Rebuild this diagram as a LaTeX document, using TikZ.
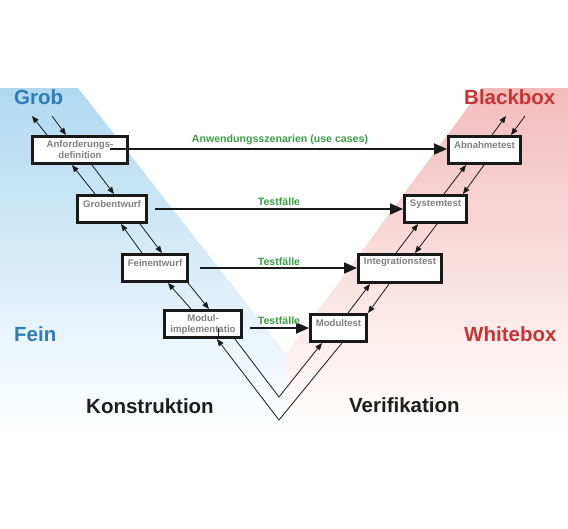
\documentclass[tikz,border=0pt]{standalone}
\usepackage{fontspec}
\setmainfont{Liberation Sans}
\usetikzlibrary{arrows.meta}
\definecolor{grobblue}{RGB}{46,125,183}
\definecolor{boxred}{RGB}{200,52,52}
\definecolor{lblgreen}{RGB}{60,158,70}
\definecolor{bgblue}{RGB}{176,217,240}
\definecolor{bgred}{RGB}{243,188,188}
\definecolor{boxgray}{RGB}{128,128,128}
\definecolor{linedark}{RGB}{25,25,25}
\definecolor{titledark}{RGB}{30,30,30}
\begin{document}
\begin{tikzpicture}[x=1pt,y=-1pt,
 vbox/.style={draw=linedark,line width=2.6pt,fill=white,minimum height=27.4pt,inner sep=0pt},
 boxtext/.style={text=boxgray,font=\fontsize{9.6}{11}\selectfont\bfseries,align=center,inner sep=0pt},
 bigarrow/.style={draw=linedark,line width=1.8pt,-{Triangle[length=13pt,width=11pt]}},
 smallarrow/.style={draw=linedark,line width=0.8pt,-{Triangle[length=7pt,width=5.5pt]}},
 greenlbl/.style={text=lblgreen,font=\fontsize{10.6}{12}\selectfont\bfseries,inner sep=0pt},
 sidelbl/.style={font=\fontsize{20.5}{24}\selectfont\bfseries,inner sep=0pt,anchor=west},
]
\useasboundingbox (0,0) rectangle (568,528);
\fill[white] (0,0) rectangle (568,528);
% background regions
\shade[top color=bgblue, bottom color=white] (0,88) -- (78,88) -- (286,354) -- (286,430) -- (0,430) -- cycle;
\shade[top color=bgred, bottom color=white] (482,88) -- (568,88) -- (568,430) -- (286,430) -- (286,354) -- cycle;

% boxes
\node[vbox,minimum width=95.4pt] (anf) at (80,150) {};
\node[vbox,minimum width=69.4pt] (grob) at (112,209) {};
\node[vbox,minimum width=65.4pt] (fein) at (155,268) {};
\node[vbox,minimum width=77.4pt] (modul) at (203,324) {};
\node[vbox,minimum width=72.4pt] (abn) at (484.5,150) {};
\node[vbox,minimum width=62.4pt] (sys) at (435.5,209) {};
\node[vbox,minimum width=83.4pt,minimum height=28.4pt] (integ) at (400,268.5) {};
\node[vbox,minimum width=56.4pt] (modt) at (338.5,328) {};

% box texts
\node[boxtext] (anft) at (anf.center) {Anforderungs-\\definition};
\node[boxtext] (grobt) at ([yshift=5pt]grob.center) {Grobentwurf};
\node[boxtext] (feint) at ([yshift=5pt]fein.center) {Feinentwurf};
\node[boxtext] (modult) at ([yshift=-1pt]modul.center) {Modul-\\implementatio};
\node[boxtext] (abnt) at ([yshift=5pt]abn.center) {Abnahmetest};
\node[boxtext] (syst) at ([yshift=5pt]sys.center) {Systemtest};
\node[boxtext] (integt) at ([yshift=6pt]integ.center) {Integrationstest};
\node[boxtext] (modtt) at ([yshift=5pt]modt.center) {Modultest};
\draw[linedark,line width=0.8pt] (218,328) -- (218,337);

% horizontal arrows
\draw[bigarrow] ([xshift=30pt,yshift=1pt]anf.center) -- ([yshift=1pt]abn.west);
\draw[bigarrow] ([xshift=7pt]grob.east) -- (sys.west);
\draw[bigarrow] ([xshift=11pt]fein.east) -- (fein.east -| integ.west);
\draw[bigarrow] ([xshift=7pt,yshift=-4pt]modul.east) -- (modt.west);

% green labels
\node[greenlbl] (l1) at (280,140) {Anwendungsszenarien (use cases)};
\node[greenlbl] (l2) at (279,202) {Testfälle};
\node[greenlbl] (l3) at (279,262) {Testfälle};
\node[greenlbl] (l4) at (279,321) {Testfälle};

% free ends
\coordinate (anfU) at (32,116);
\coordinate (anfD) at (52,116);
\coordinate (abnU) at (506,116);
\coordinate (abnD) at (525,116);
\coordinate (vin) at (279,397);
\coordinate (vout) at (279,420);

% left diagonal arrows
\draw[smallarrow] ([xshift=16pt]anf.north west) -- (anfU);
\draw[smallarrow] (anfD) -- ([xshift=35pt]anf.north west);
\draw[smallarrow] ([xshift=19pt]grob.north west) -- ([xshift=41pt]anf.south west);
\draw[smallarrow] ([xshift=61pt]anf.south west) -- ([xshift=38pt]grob.north west);
\draw[smallarrow] ([xshift=21pt]fein.north west) -- ([xshift=45pt]grob.south west);
\draw[smallarrow] ([xshift=64pt]grob.south west) -- ([xshift=41pt]fein.north west);
\draw[smallarrow] ([xshift=28pt]modul.north west) -- ([xshift=47pt]fein.south west);
\draw[smallarrow] ([xshift=67pt]fein.south west) -- ([xshift=46pt]modul.north west);

% right diagonal arrows
\draw[smallarrow] ([xshift=39pt]modt.north west) -- ([xshift=13pt]integ.south west);
\draw[smallarrow] ([xshift=32pt]integ.south west) -- (modt.north east);
\draw[smallarrow] ([xshift=39pt]integ.north west) -- ([xshift=15pt]sys.south west);
\draw[smallarrow] ([xshift=34pt]sys.south west) -- ([xshift=58pt]integ.north west);
\draw[smallarrow] ([xshift=41pt]sys.north west) -- ([xshift=19pt]abn.south west);
\draw[smallarrow] ([xshift=37pt]abn.south west) -- ([xshift=60pt]sys.north west);
\draw[smallarrow] ([xshift=45pt]abn.north west) -- (abnU);
\draw[smallarrow] (abnD) -- ([xshift=64pt]abn.north west);

% bottom V
\draw[smallarrow] ([xshift=72pt]modul.south west) -- (vin) -- ([xshift=13pt]modt.south west);
\draw[smallarrow] ([xshift=33pt]modt.south west) -- (vout) -- ([xshift=54pt]modul.south west);

% side labels
\node[sidelbl,text=grobblue] (grobl) at (14,97) {Grob};
\node[sidelbl,text=grobblue] (feinl) at (14,334) {Fein};
\node[sidelbl,text=boxred] (blackl) at (464,97) {Blackbox};
\node[sidelbl,text=boxred] (whitel) at (464,334) {Whitebox};
\node[sidelbl,text=titledark] (konl) at (86,406) {Konstruktion};
\node[sidelbl,text=titledark] (verl) at (349,405) {Verifikation};
\end{tikzpicture}
\end{document}
